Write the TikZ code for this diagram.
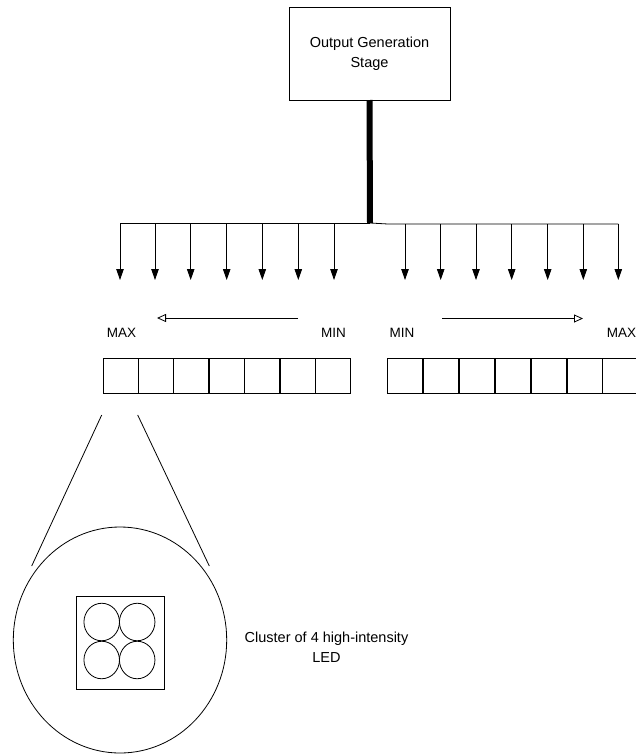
\documentclass[tikz,border=0pt]{standalone}
\usepackage{fontspec}
\setmainfont{Liberation Sans}
\usetikzlibrary{arrows.meta,shapes.geometric}
\tikzset{
  thin line/.style={line width=0.8pt,draw=black},
  cell/.style={draw,line width=0.8pt,minimum width=35pt,minimum height=35.5pt,inner sep=0pt,outer sep=0pt},
  label text/.style={font=\fontsize{13.5}{16}\selectfont,inner sep=0pt},
  body text/.style={font=\fontsize{14.5}{19.5}\selectfont,align=center,inner sep=0pt},
  down arrow/.style={line width=0.8pt,-{Triangle[length=11pt,width=7.5pt]}},
  open arrow/.style={line width=0.8pt,-{Triangle[open,length=9pt,width=8pt]}},
  led/.style={draw,ellipse,line width=0.8pt,minimum width=35.5pt,minimum height=37.5pt,inner sep=0pt,outer sep=0pt}
}
\begin{document}
\begin{tikzpicture}[x=1pt,y=-1pt]
\useasboundingbox (0,0) rectangle (636,755);
% top box
\node[draw,line width=0.8pt,minimum width=161pt,minimum height=93pt,inner sep=0pt,outer sep=0pt,body text] (out) at (369.5,53.5) {Output Generation\\Stage};
% trunk
\coordinate (hub) at (370,223);
\draw[line width=6pt] (out.south) -- (hub);
% bus lines
\coordinate (lend) at (120,223);
\coordinate (rkink) at (388,224);
\coordinate (rend) at (618.3,224);
\draw[thin line] (hub) -- (lend);
\draw[thin line] (hub) -- (rkink) -- (rend);
% down arrows
\foreach \x [count=\i] in {120,155,190.7,226.7,262.3,298.3,334}{
  \coordinate (la\i) at (\x,223);
  \coordinate (lt\i) at (\x,280);
  \draw[down arrow] (la\i) -- (lt\i);
}
\foreach \x [count=\i] in {405,440.7,476,511.7,547.7,583.3,618.3}{
  \coordinate (ra\i) at (\x,224);
  \coordinate (rt\i) at (\x,280);
  \draw[down arrow] (ra\i) -- (rt\i);
}
% direction arrows
\coordinate (lfrom) at (298,318);
\coordinate (lto) at (157,318);
\draw[open arrow] (lfrom) -- (lto);
\coordinate (rfrom) at (442,318.5);
\coordinate (rto) at (583,318.5);
\draw[open arrow] (rfrom) -- (rto);
% labels
\node[label text] (lmax) at (121.5,332.5) {MAX};
\node[label text] (lmin) at (333.5,332.5) {MIN};
\node[label text] (rmin) at (402,332.5) {MIN};
\node[label text] (rmax) at (621.5,332.5) {MAX};
% cell rows
\foreach \x [count=\i] in {120.5,155.5,191,226.5,262,298,333}{
  \node[cell] (l\i) at (\x,375.75) {};
}
\foreach \x [count=\i] in {405,440.5,476.5,513,549,584.5,619.5}{
  \node[cell] (r\i) at (\x,375.75) {};
}
% magnifier
\node[draw,ellipse,line width=0.8pt,minimum width=213.4pt,minimum height=226pt,inner sep=0pt,outer sep=0pt] (lens) at (120,640) {};
\coordinate (za) at (101.7,415);
\coordinate (zb) at (31.7,566);
\coordinate (zc) at (137.7,415);
\coordinate (zd) at (209.3,566);
\draw[thin line] (za) -- (zb);
\draw[thin line] (zc) -- (zd);
% LED cluster
\node[draw,line width=0.8pt,minimum width=88pt,minimum height=93pt,inner sep=0pt,outer sep=0pt] (cluster) at (120,642.7) {};
\node[led] (led1) at (101.7,622) {};
\node[led] (led2) at (137.2,622) {};
\node[led] (led3) at (101.7,660) {};
\node[led] (led4) at (137.2,660) {};
% caption
\node[body text] (cap) at (326.5,647) {Cluster of 4 high-intensity\\LED};
\end{tikzpicture}
\end{document}
